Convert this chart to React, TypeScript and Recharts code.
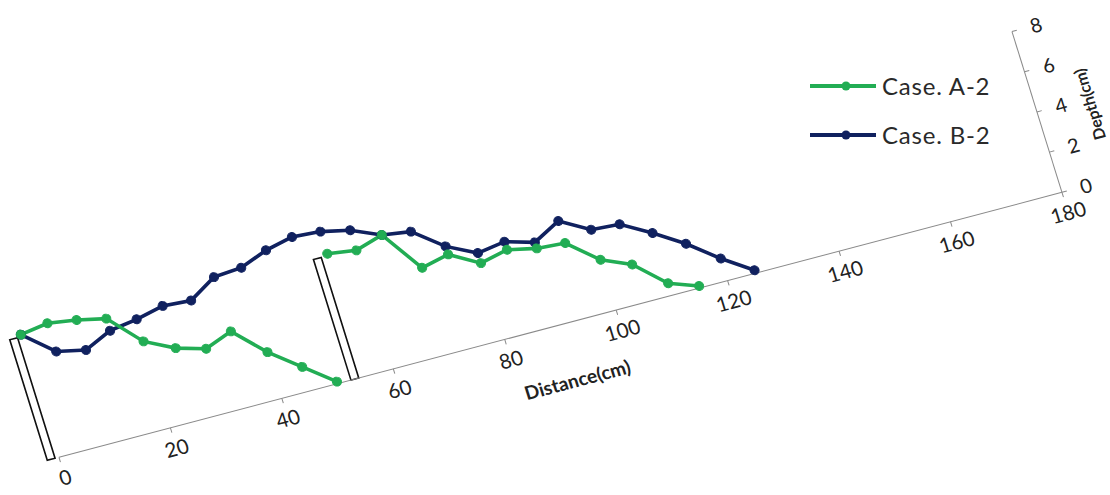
import React from "react";
import { LineChart, Line, XAxis, YAxis, ReferenceArea } from "recharts";

// distances (cm) and depths (cm)
const DIST_A_LEFT = [0, 5, 10, 15, 20, 25, 30, 35, 40, 45, 50];
const DEPTH_A_LEFT = [6.1, 6.3, 6.1, 5.8, 4.3, 3.6, 3.2, 3.7, 2.3, 1.2, 0.1];

const DIST_A_RIGHT = [55, 60, 65, 70, 75, 80, 85, 90, 95, 100, 105, 110, 115];
const DEPTH_A_RIGHT = [6.1, 5.9, 6.3, 4.3, 4.6, 3.8, 4.1, 3.8, 3.7, 2.5, 1.9, 0.6, 0.1];

const DIST_B = [
  0, 5, 10, 15, 20, 25, 30, 35, 40, 45, 50, 55, 60, 65, 70, 75, 80, 85, 90, 95,
  100, 105, 110, 115, 120, 125,
];
const DEPTH_B = [
  6.1, 4.9, 4.6, 5.2, 5.4, 5.7, 5.6, 6.4, 6.5, 7.0, 7.3, 7.2, 6.9, 6.3, 6.1, 5.0,
  4.3, 4.5, 4.1, 4.8, 4.0, 3.9, 3.1, 2.2, 1.1, 0.15,
];

// the two weirs (distance from / to, height)
const WALL_FROM = [-2.1, 52.4];
const WALL_TO = [-0.7, 53.8];
const WALL_TOP = [6, 6];

const DIST_TICKS = [0, 20, 40, 60, 80, 100, 120, 140, 160, 180];
const DEPTH_TICKS = [0, 2, 4, 6, 8];

const SERIES_NAMES = ["Case. A-2", "Case. B-2"];
const GREEN = "#22ad54";
const NAVY = "#10215f";
const FONT = "Lato, 'Open Sans', sans-serif";

const rows = (xs: number[], ys: number[]) => xs.map((d, i) => ({ dist: d, depth: ys[i] }));

// local chart box
const PLOT_W = 1037;
const PLOT_H = 168;
const MARGIN = { top: 20, right: 0, left: 30, bottom: 0 };
const Y_W = 90;
const X_H = 75;
const CHART_W = MARGIN.left + PLOT_W + Y_W;
const CHART_H = MARGIN.top + PLOT_H + X_H;

// oblique view of the profile: matrix(a, b, c, d)
const MAT = [0.9672, -0.2555, 0.2976, 0.957];
const ORIGIN = [59, 457]; // where distance 0 / depth 0 lands on screen
const LX = MARGIN.left;
const LY = MARGIN.top + PLOT_H;
const OFF_X = ORIGIN[0] - (MAT[0] * LX + MAT[2] * LY);
const OFF_Y = ORIGIN[1] - (MAT[1] * LX + MAT[3] * LY);

function DepthLabel(props: any) {
  const vb = props.viewBox || {};
  const x = (vb.x ?? 0) + 52;
  const y = (vb.y ?? 0) + (vb.height ?? 0) / 2 + 6;
  return (
    <text
      x={x}
      y={y}
      transform={`rotate(-90 ${x} ${y})`}
      textAnchor="middle"
      dominantBaseline="central"
      fontFamily={FONT}
      fontWeight="bold"
      fontSize={16}
      fill="#222"
    >
      Depth(cm)
    </text>
  );
}

function DistanceLabel(props: any) {
  const vb = props.viewBox || {};
  const x = (vb.x ?? 0) + (vb.width ?? 0) / 2;
  const y = (vb.y ?? 0) + 57;
  return (
    <text
      x={x}
      y={y}
      textAnchor="middle"
      dominantBaseline="central"
      fontFamily={FONT}
      fontWeight="bold"
      fontSize={19}
      fill="#222"
    >
      Distance(cm)
    </text>
  );
}

function LegendItem({ color, name }: { color: string; name: string }) {
  return (
    <div style={{ display: "flex", alignItems: "center", height: 49 }}>
      <svg width={68} height={14}>
        <line x1={0} y1={7} x2={66} y2={7} stroke={color} strokeWidth={4} />
        <circle cx={36} cy={7} r={4.5} fill={color} />
      </svg>
      <span
        style={{
          fontFamily: FONT,
          fontSize: 24,
          letterSpacing: 0.8,
          color: "#2a2a2a",
          marginLeft: 4,
        }}
      >
        {name}
      </span>
    </div>
  );
}

export default function App() {
  const dot = (c: string) => ({ r: 4.5, fill: c, stroke: c, strokeWidth: 1 });
  return (
    <div
      style={{
        position: "absolute",
        left: 0,
        top: 0,
        width: 1110,
        height: 495,
        background: "#fff",
        overflow: "hidden",
      }}
    >
      <div
        style={{
          position: "absolute",
          left: OFF_X,
          top: OFF_Y,
          transformOrigin: "0 0",
          transform: `matrix(${MAT.join(",")},0,0)`,
        }}
      >
        <LineChart width={CHART_W} height={CHART_H} margin={MARGIN} style={{ fontFamily: FONT }}>
          <XAxis
            dataKey="dist"
            type="number"
            domain={[0, 180]}
            ticks={DIST_TICKS}
            height={X_H}
            tick={{ fontSize: 20.5, fill: "#222", fontFamily: FONT }}
            tickMargin={9}
            tickSize={5}
            stroke="#8a8a8a"
            label={<DistanceLabel />}
          />
          <YAxis
            yAxisId="d"
            orientation="right"
            type="number"
            domain={[0, 8]}
            ticks={DEPTH_TICKS}
            width={Y_W}
            tick={{ fontSize: 20, fill: "#222", fontFamily: FONT }}
            tickMargin={14}
            tickSize={5}
            stroke="#8a8a8a"
            label={<DepthLabel />}
          />
          {WALL_FROM.map((x1, i) => (
            <ReferenceArea
              key={`w${i}`}
              yAxisId="d"
              x1={x1}
              x2={WALL_TO[i]}
              y1={0}
              y2={WALL_TOP[i]}
              fill="#fff"
              fillOpacity={1}
              stroke="#111"
              strokeWidth={1.6}
              ifOverflow="visible"
            />
          ))}
          <Line
            yAxisId="d"
            data={rows(DIST_B, DEPTH_B)}
            dataKey="depth"
            name={SERIES_NAMES[1]}
            stroke={NAVY}
            strokeWidth={3.6}
            dot={dot(NAVY)}
            isAnimationActive={false}
          />
          <Line
            yAxisId="d"
            data={rows(DIST_A_LEFT, DEPTH_A_LEFT)}
            dataKey="depth"
            name={SERIES_NAMES[0]}
            stroke={GREEN}
            strokeWidth={3.6}
            dot={dot(GREEN)}
            isAnimationActive={false}
          />
          <Line
            yAxisId="d"
            data={rows(DIST_A_RIGHT, DEPTH_A_RIGHT)}
            dataKey="depth"
            name={SERIES_NAMES[0]}
            stroke={GREEN}
            strokeWidth={3.6}
            dot={dot(GREEN)}
            isAnimationActive={false}
          />
        </LineChart>
      </div>
      <div style={{ position: "absolute", left: 810, top: 61 }}>
        <LegendItem color={GREEN} name={SERIES_NAMES[0]} />
        <LegendItem color={NAVY} name={SERIES_NAMES[1]} />
      </div>
    </div>
  );
}
